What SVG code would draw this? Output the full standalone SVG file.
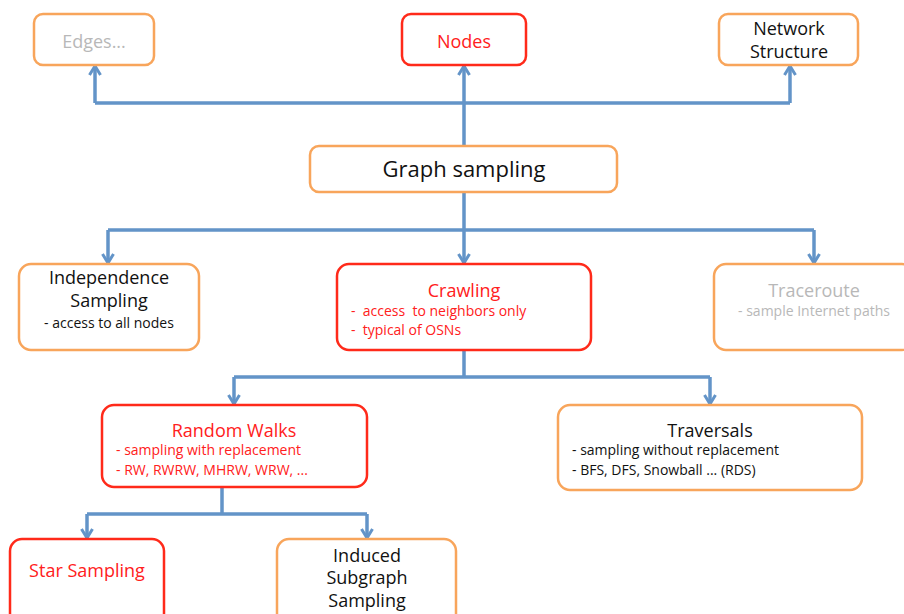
<svg xmlns="http://www.w3.org/2000/svg" width="904" height="614" viewBox="0 0 904 614">
<defs>
<marker id="ah" viewBox="0 0 14 14" refX="12" refY="7" markerWidth="14" markerHeight="14" markerUnits="userSpaceOnUse" orient="auto">
<path d="M3,1.5 L12,7 L3,12.5" fill="none" stroke="#6394c8" stroke-width="3"/>
</marker>
<style>
.bo{fill:#fff;stroke:#f8a55b;stroke-width:2.5}
.br{fill:#fff;stroke:#ff2a1a;stroke-width:2.5}
.c{fill:none;stroke:#6394c8;stroke-width:3.5}
.ca{fill:none;stroke:#6394c8;stroke-width:3.5;marker-end:url(#ah)}
text{font-family:"Comic Sans MS","Open Sans","Liberation Sans",sans-serif;white-space:pre}
.t{font-size:18px;fill:#111;text-anchor:middle}
.tr{font-size:18px;fill:#ff2020;text-anchor:middle}
.tg{font-size:18px;fill:#b8b8b8;text-anchor:middle}
.s{font-size:14px;fill:#111}
.sr{font-size:14px;fill:#ff2020}
.sg{font-size:14px;fill:#b8b8b8}
</style>
</defs>
<g id="connectors">
<path class="c" d="M464,146 V103 M95,103 H790"/>
<path class="ca" d="M95,103 V66"/>
<path class="ca" d="M464,103 V66"/>
<path class="ca" d="M790,103 V66"/>
<path class="c" d="M464,192 V230 M108,230 H814"/>
<path class="ca" d="M108,230 V263"/>
<path class="ca" d="M464,230 V263"/>
<path class="ca" d="M814,230 V263"/>
<path class="c" d="M464,350 V377 M234,377 H710"/>
<path class="ca" d="M234,377 V404"/>
<path class="ca" d="M710,377 V404"/>
<path class="c" d="M222,487 V514 M87,514 H367"/>
<path class="ca" d="M87,514 V538"/>
<path class="ca" d="M367,514 V538"/>
</g>
<g id="edges"><rect class="bo" x="34" y="14" width="120" height="51" rx="9"/><text class="tg" x="94" y="48">Edges...</text></g>
<g id="nodes"><rect class="br" x="402" y="14" width="124" height="51" rx="9"/><text class="tr" x="464" y="48">Nodes</text></g>
<g id="network-structure"><rect class="bo" x="719" y="14" width="139" height="51" rx="9"/><text class="t" x="789" y="35">Network</text><text class="t" x="789" y="58">Structure</text></g>
<g id="graph-sampling"><rect class="bo" x="310" y="146" width="307" height="46" rx="9"/><text class="t" x="464" y="177" style="font-size:22px">Graph sampling</text></g>
<g id="independence"><rect class="bo" x="19" y="264" width="180" height="86" rx="12"/><text class="t" x="109" y="284">Independence</text><text class="t" x="109" y="307">Sampling</text><text class="s" x="109" y="328" text-anchor="middle">- access to all nodes</text></g>
<g id="crawling"><rect class="br" x="337" y="264" width="254" height="86" rx="12"/><text class="tr" x="464" y="297">Crawling</text><text class="sr" x="351" y="316">-  access  to neighbors only</text><text class="sr" x="351" y="335">-  typical of OSNs</text></g>
<g id="traceroute"><rect class="bo" x="714" y="264" width="200" height="86" rx="12"/><text class="tg" x="814" y="297">Traceroute</text><text class="sg" x="814" y="316" text-anchor="middle">- sample Internet paths</text></g>
<g id="random-walks"><rect class="br" x="102" y="405" width="265" height="82" rx="12"/><text class="tr" x="234" y="437">Random Walks</text><text class="sr" x="116" y="455">- sampling with replacement</text><text class="sr" x="116" y="475">- RW, RWRW, MHRW, WRW, ...</text></g>
<g id="traversals"><rect class="bo" x="558" y="405" width="304" height="85" rx="12"/><text class="t" x="710" y="437">Traversals</text><text class="s" x="572" y="455">- sampling without replacement</text><text class="s" x="572" y="475">- BFS, DFS, Snowball ... (RDS)</text></g>
<g id="star-sampling"><rect class="br" x="10" y="539" width="154" height="90" rx="12"/><text class="tr" x="87" y="577">Star Sampling</text></g>
<g id="induced-subgraph"><rect class="bo" x="277" y="539" width="179" height="90" rx="12"/><text class="t" x="367" y="562">Induced</text><text class="t" x="367" y="584">Subgraph</text><text class="t" x="367" y="607">Sampling</text></g>
</svg>
